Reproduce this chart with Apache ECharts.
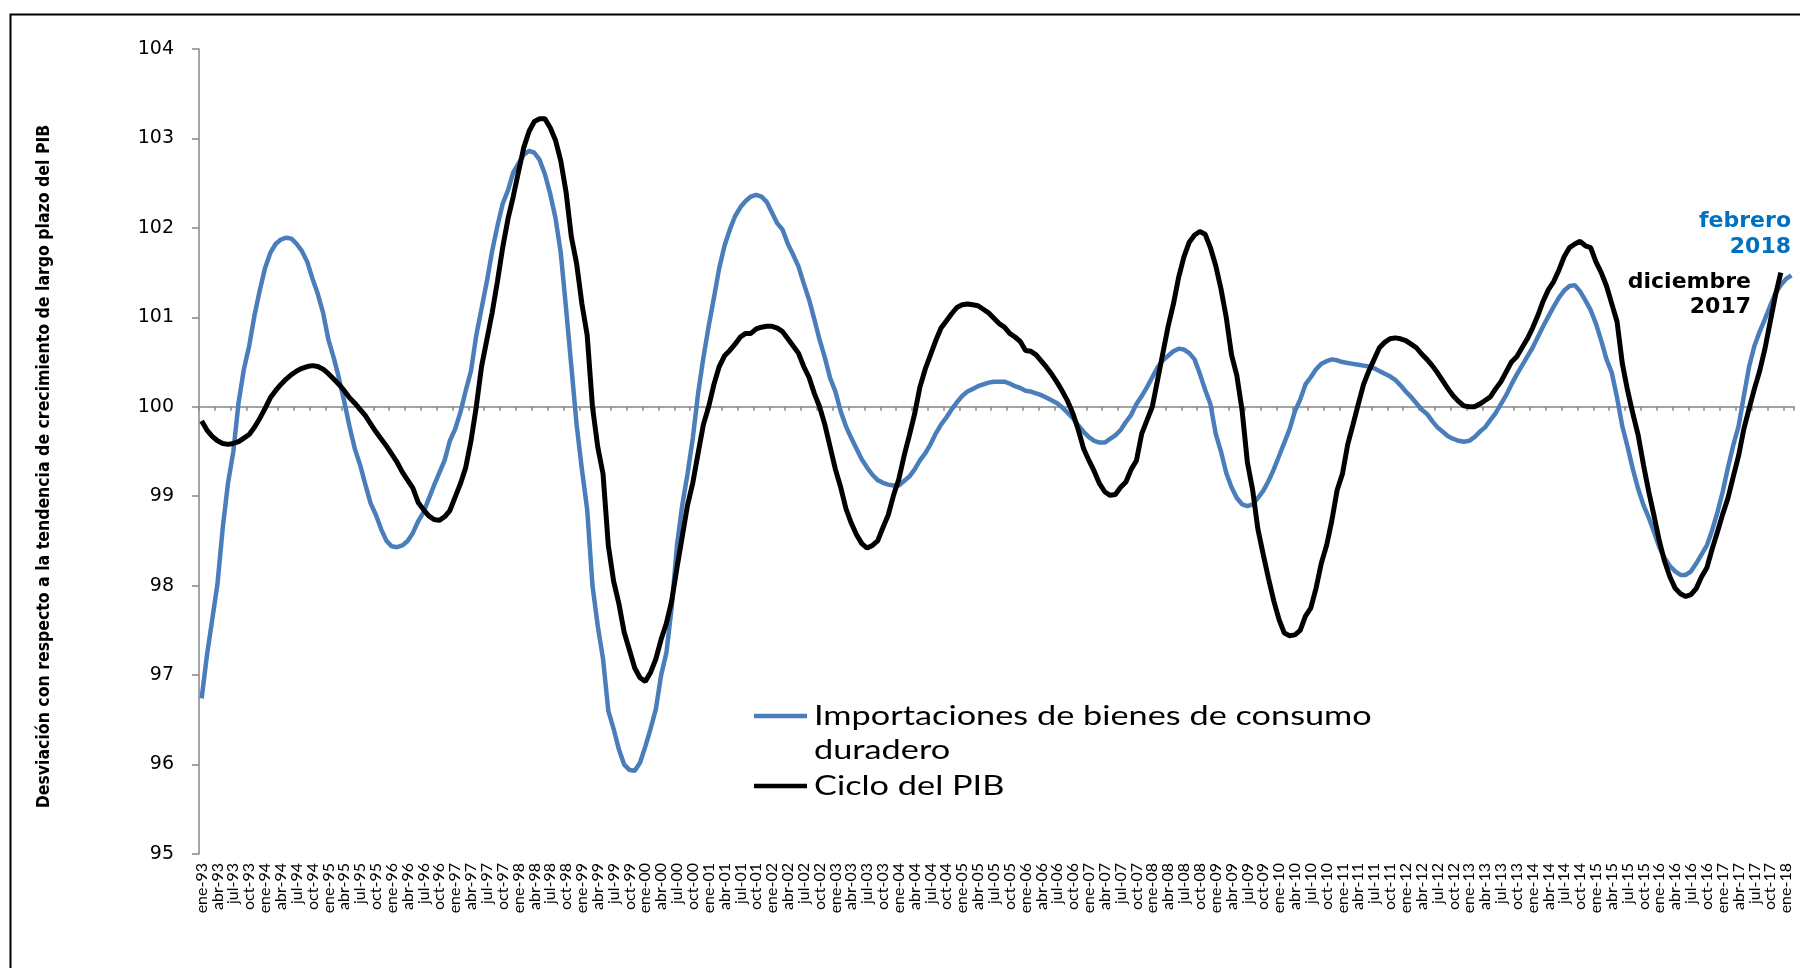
<!DOCTYPE html>
<html>
<head>
<meta charset="utf-8">
<script src="https://cdn.jsdelivr.net/npm/echarts@6/dist/echarts.min.js"></script>
<style>
html,body{margin:0;padding:0;background:#fff;}
#chart{width:1800px;height:968px;}
</style>
</head>
<body>
<div id="chart"></div>
<script>
// ---- data ----
const monthNames = ['ene','feb','mar','abr','may','jun','jul','ago','sep','oct','nov','dic'];
const startYear = 1993;
const monthCount = 302; // ene-93 .. feb-18

const seriesNames = ['Importaciones de bienes de consumo duradero', 'Ciclo del PIB'];

// Importaciones de bienes de consumo duradero (ene-93 .. feb-18)
const importaciones = [
96.74,97.22,97.62,98.02,98.65,99.15,99.50,100.05,100.42,100.68,101.02,101.30,
101.55,101.72,101.82,101.87,101.89,101.88,101.82,101.74,101.62,101.43,101.26,101.05,
100.75,100.55,100.32,100.06,99.78,99.53,99.35,99.13,98.92,98.79,98.63,98.50,
98.44,98.43,98.45,98.50,98.59,98.72,98.82,98.97,99.12,99.26,99.40,99.62,
99.75,99.94,100.18,100.40,100.80,101.10,101.40,101.74,102.02,102.27,102.42,102.62,
102.72,102.82,102.86,102.84,102.76,102.60,102.38,102.11,101.72,101.10,100.45,99.80,
99.30,98.85,98.00,97.55,97.18,96.60,96.40,96.17,96.00,95.94,95.93,96.02,
96.20,96.40,96.62,97.00,97.25,97.76,98.45,98.90,99.25,99.65,100.15,100.55,
100.90,101.22,101.55,101.80,101.98,102.13,102.23,102.30,102.35,102.37,102.35,102.29,
102.17,102.05,101.98,101.82,101.70,101.57,101.38,101.20,100.98,100.75,100.55,100.32,
100.17,99.95,99.78,99.65,99.53,99.41,99.32,99.24,99.18,99.15,99.13,99.12,
99.12,99.17,99.22,99.30,99.40,99.48,99.58,99.70,99.80,99.88,99.97,100.05,
100.12,100.17,100.20,100.23,100.25,100.27,100.28,100.28,100.28,100.26,100.23,100.21,
100.18,100.17,100.15,100.13,100.10,100.07,100.04,99.99,99.93,99.87,99.79,99.72,
99.66,99.62,99.60,99.60,99.64,99.68,99.74,99.83,99.91,100.03,100.12,100.22,
100.33,100.44,100.52,100.57,100.62,100.65,100.64,100.60,100.53,100.37,100.19,100.03,
99.70,99.50,99.26,99.10,98.98,98.91,98.89,98.91,98.98,99.06,99.17,99.30,
99.45,99.60,99.75,99.95,100.08,100.25,100.33,100.42,100.48,100.51,100.53,100.52,
100.50,100.49,100.48,100.47,100.46,100.45,100.43,100.40,100.37,100.34,100.30,100.24,
100.17,100.11,100.04,99.97,99.92,99.84,99.77,99.72,99.67,99.64,99.62,99.61,
99.62,99.66,99.72,99.77,99.85,99.93,100.03,100.13,100.25,100.36,100.46,100.56,
100.66,100.78,100.90,101.01,101.12,101.22,101.30,101.35,101.36,101.29,101.19,101.08,
100.93,100.74,100.53,100.38,100.10,99.78,99.55,99.30,99.08,98.90,98.76,98.60,
98.43,98.31,98.22,98.16,98.12,98.12,98.16,98.25,98.35,98.45,98.62,98.82,
99.05,99.32,99.57,99.78,100.12,100.45,100.68,100.84,100.98,101.13,101.27,101.36,
101.43,101.47
];

// Ciclo del PIB (ene-93 .. dic-17)
const cicloPIB = [
99.84,99.74,99.67,99.62,99.59,99.58,99.59,99.61,99.65,99.69,99.77,99.87,
99.98,100.10,100.18,100.25,100.31,100.36,100.40,100.43,100.45,100.46,100.45,100.42,
100.37,100.31,100.25,100.18,100.10,100.04,99.97,99.90,99.81,99.72,99.64,99.56,
99.47,99.38,99.27,99.18,99.09,98.93,98.85,98.78,98.74,98.73,98.77,98.84,
98.99,99.14,99.32,99.62,100.00,100.45,100.75,101.05,101.40,101.78,102.10,102.35,
102.63,102.90,103.08,103.19,103.22,103.22,103.12,102.98,102.75,102.40,101.90,101.60,
101.15,100.80,100.00,99.55,99.25,98.45,98.05,97.80,97.48,97.28,97.08,96.97,
96.93,97.03,97.18,97.40,97.58,97.83,98.20,98.55,98.90,99.15,99.48,99.80,
100.00,100.25,100.45,100.57,100.63,100.70,100.78,100.82,100.82,100.87,100.89,100.90,
100.90,100.88,100.84,100.76,100.68,100.60,100.45,100.33,100.15,100.00,99.80,99.55,
99.30,99.10,98.86,98.70,98.57,98.47,98.42,98.45,98.50,98.65,98.79,99.01,
99.19,99.45,99.68,99.92,100.22,100.42,100.58,100.74,100.88,100.96,101.04,101.11,
101.14,101.15,101.14,101.13,101.09,101.05,100.99,100.93,100.89,100.82,100.78,100.73,
100.63,100.62,100.58,100.51,100.44,100.36,100.27,100.17,100.06,99.92,99.74,99.53,
99.40,99.28,99.14,99.05,99.01,99.02,99.10,99.16,99.30,99.40,99.70,99.85,
100.00,100.30,100.60,100.90,101.15,101.45,101.68,101.84,101.92,101.96,101.93,101.78,
101.58,101.32,101.00,100.58,100.35,99.96,99.38,99.07,98.63,98.35,98.08,97.83,
97.62,97.47,97.44,97.45,97.50,97.66,97.75,97.97,98.25,98.45,98.73,99.07,
99.25,99.58,99.80,100.03,100.25,100.40,100.53,100.66,100.72,100.76,100.77,100.76,
100.74,100.70,100.66,100.59,100.53,100.46,100.38,100.29,100.20,100.12,100.06,100.01,
100.00,100.00,100.03,100.07,100.11,100.20,100.28,100.39,100.50,100.56,100.66,100.76,
100.88,101.02,101.18,101.31,101.40,101.53,101.68,101.78,101.82,101.85,101.80,101.78,
101.62,101.50,101.35,101.15,100.95,100.48,100.18,99.92,99.68,99.35,99.05,98.78,
98.50,98.27,98.10,97.97,97.91,97.88,97.90,97.97,98.10,98.20,98.41,98.60,
98.80,98.98,99.22,99.45,99.75,99.98,100.20,100.40,100.65,100.95,101.25,101.50
];

const yTicks = [95, 96, 97, 98, 99, 100, 101, 102, 103, 104];
const baseline = 100;
const labelEvery = 3; // one x label per quarter
const annotations = [['febrero', '2018'], ['diciembre', '2017']];
const yTitle = 'Desviación con respecto a la tendencia de crecimiento de largo plazo del PIB';
const legendLines = [['Importaciones de bienes de consumo', 'duradero'], ['Ciclo del PIB']];

// ---- build categories ----
const categories = [];
for (let i = 0; i < monthCount; i++) {
  const y = startYear + Math.floor(i / 12);
  categories.push(monthNames[i % 12] + '-' + String(y % 100).padStart(2, '0'));
}

// ---- layout ----
const W = 1800, H = 968;
const gridLeft = 199, gridRight = 6, gridTop = 49, gridBottom = 114;
const gridH = H - gridTop - gridBottom;
const yMin = yTicks[0], yMax = yTicks[yTicks.length - 1];
const baselineOffset = -gridH * (baseline - yMin) / (yMax - yMin);

const BLUE = '#4A7EBB';
const ANN_BLUE = '#0070C0';
const AXIS_GREY = '#868686';

const chart = echarts.init(document.getElementById('chart'), null, {renderer: 'canvas'});

const legendFont = '27px Lato, "Open Sans", sans-serif';
const legendScaleX = 1.27;
const annFont = 'bold 22px "DejaVu Sans", Verdana, sans-serif';

function legendText(txt, y) {
  return {type: 'text', x: 814, y: y, scaleX: legendScaleX, scaleY: 1,
    style: {text: txt, x: 0, y: 0, font: legendFont, fill: '#000', verticalAlign: 'middle'}};
}

const option = {
  backgroundColor: '#fff',
  animation: false,
  grid: {left: gridLeft, right: gridRight, top: gridTop, bottom: gridBottom, containLabel: false},
  legend: {show: false, data: seriesNames},
  xAxis: [
    {
      type: 'category',
      data: categories,
      boundaryGap: true,
      position: 'bottom',
      axisLine: {show: false},
      axisTick: {show: false},
      axisLabel: {
        interval: labelEvery - 1,
        rotate: 90,
        margin: 9,
        color: '#000',
        fontFamily: 'Lato, "Open Sans", sans-serif',
        fontSize: 16
      },
      splitLine: {show: false}
    },
    {
      type: 'category',
      data: categories,
      boundaryGap: true,
      position: 'bottom',
      offset: baselineOffset,
      axisLine: {show: true, lineStyle: {color: AXIS_GREY, width: 1.5}},
      axisTick: {show: true, interval: labelEvery - 1, length: 4, lineStyle: {color: AXIS_GREY, width: 1.5}},
      axisLabel: {show: false},
      splitLine: {show: false}
    }
  ],
  yAxis: {
    type: 'value',
    min: yMin,
    max: yMax,
    interval: 1,
    name: yTitle,
    nameLocation: 'middle',
    nameRotate: 90,
    nameGap: 146,
    nameTextStyle: {
      fontFamily: '"DejaVu Sans Condensed", "DejaVu Sans", sans-serif',
      fontWeight: 'bold',
      fontSize: 17.5,
      color: '#000',
      padding: [0, 30, 0, 0]
    },
    axisLine: {show: true, lineStyle: {color: AXIS_GREY, width: 1.5}},
    axisTick: {show: true, length: 7, lineStyle: {color: AXIS_GREY, width: 1.5}},
    axisLabel: {
      margin: 25,
      color: '#000',
      fontFamily: '"DejaVu Sans", Verdana, sans-serif',
      fontSize: 19
    },
    splitLine: {show: false}
  },
  series: [
    {
      name: seriesNames[0],
      type: 'line',
      xAxisIndex: 0,
      data: importaciones,
      showSymbol: false,
      symbol: 'none',
      lineStyle: {color: BLUE, width: 4.5},
      itemStyle: {color: BLUE},
      z: 2
    },
    {
      name: seriesNames[1],
      type: 'line',
      xAxisIndex: 0,
      data: cicloPIB,
      showSymbol: false,
      symbol: 'none',
      lineStyle: {color: '#000', width: 5},
      itemStyle: {color: '#000'},
      z: 3
    }
  ],
  graphic: [
    // outer frame
    {type: 'rect', left: 8, top: 12, shape: {width: 1850, height: 1000}, style: {fill: null, stroke: '#000', lineWidth: 2}, silent: true},
    // legend
    {type: 'line', shape: {x1: 754, y1: 716, x2: 807, y2: 716}, style: {stroke: BLUE, lineWidth: 4.5}},
    legendText(legendLines[0][0], 716),
    legendText(legendLines[0][1], 750),
    {type: 'line', shape: {x1: 754, y1: 786, x2: 807, y2: 786}, style: {stroke: '#000', lineWidth: 4.5}},
    legendText(legendLines[1][0], 786),
    // annotations
    {type: 'text', x: 1791, y: 221, style: {text: annotations[0][0], font: annFont, fill: ANN_BLUE, align: 'right', verticalAlign: 'middle'}},
    {type: 'text', x: 1791, y: 247, style: {text: annotations[0][1], font: annFont, fill: ANN_BLUE, align: 'right', verticalAlign: 'middle'}},
    {type: 'text', x: 1751, y: 282, style: {text: annotations[1][0], font: annFont, fill: '#000', align: 'right', verticalAlign: 'middle'}},
    {type: 'text', x: 1751, y: 307, style: {text: annotations[1][1], font: annFont, fill: '#000', align: 'right', verticalAlign: 'middle'}}
  ]
};

chart.setOption(option);
</script>
</body>
</html>
